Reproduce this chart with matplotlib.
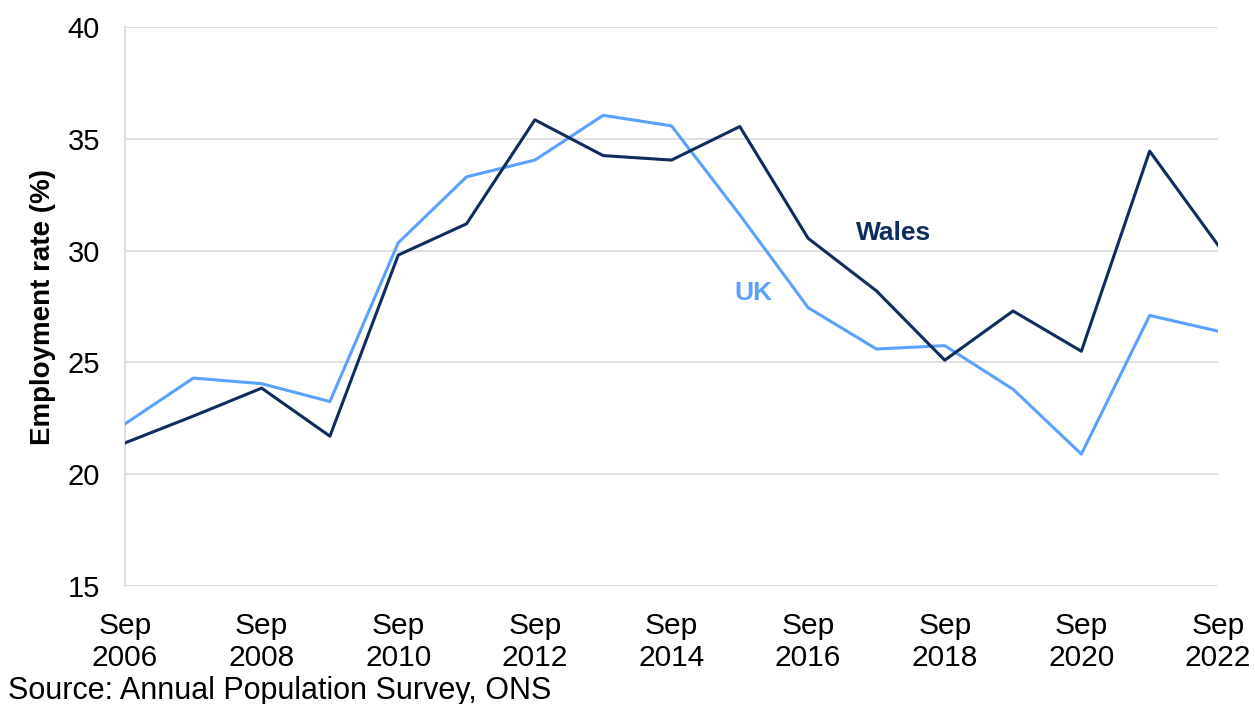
import matplotlib.pyplot as plt

plt.rcParams['font.family'] = ['Liberation Sans', 'DejaVu Sans']

years = list(range(2006, 2023))
wales = [21.4, 22.6, 23.85, 21.7, 29.8, 31.2, 35.85, 34.25, 34.05, 35.55,
         30.55, 28.2, 25.1, 27.3, 25.5, 34.45, 30.25]
uk = [22.25, 24.3, 24.05, 23.25, 30.35, 33.3, 34.05, 36.05, 35.58, 31.6,
      27.45, 25.6, 25.75, 23.8, 20.9, 27.1, 26.4]
tick_years = list(range(2006, 2023, 2))
tick_labels = ["Sep\n%d" % y for y in tick_years]

navy = '#0E2D5C'
light = '#5AA0FF'

fig = plt.figure(figsize=(12.55, 7.04), dpi=100)
ax = fig.add_axes([0.0996, 0.1676, 0.8709, 0.794])

ax.plot(years, uk, color=light, lw=2.2, zorder=3)
ax.plot(years, wales, color=navy, lw=2.2, zorder=4)

ax.set_xlim(2006, 2022)
ax.set_ylim(15, 40)
ax.set_yticks([15, 20, 25, 30, 35, 40])
ax.set_xticks(tick_years)
ax.set_xticklabels(tick_labels, fontsize=21.5, linespacing=1.15)
ax.tick_params(axis='y', labelsize=21, length=0, pad=18)
ax.tick_params(axis='x', length=0, pad=19)
ax.grid(axis='y', color='#d9d9d9', lw=1.2)
ax.set_axisbelow(True)
for s in ['top', 'right', 'bottom']:
    ax.spines[s].set_visible(False)
ax.spines['left'].set_color('#d9d9d9')
ax.spines['left'].set_linewidth(1.2)

ax.set_ylabel("Employment rate (%)", fontsize=20, fontweight='bold', labelpad=8)

ax.text(2017.25, 30.8, "Wales", color=navy, fontsize=19, fontweight='bold',
        ha='center', va='center')
ax.text(2015.2, 28.1, "UK", color=light, fontsize=19, fontweight='bold',
        ha='center', va='center')

fig.text(0.006, 0.018, "Source: Annual Population Survey, ONS", fontsize=22,
         ha='left', va='center')

fig.savefig('out.png', dpi=100)
